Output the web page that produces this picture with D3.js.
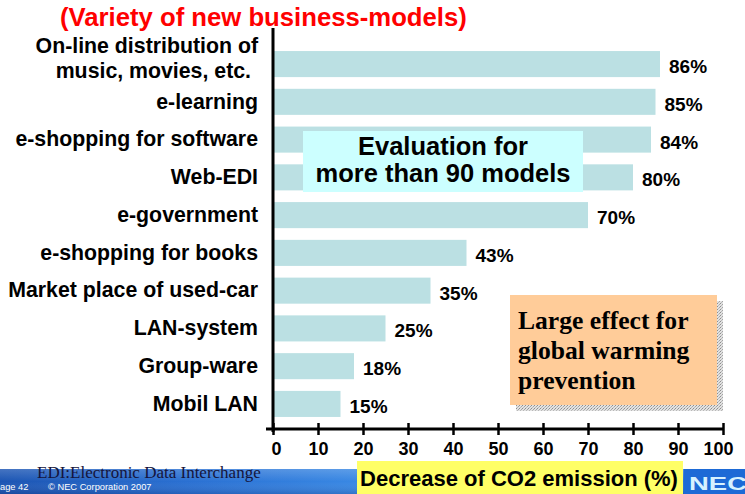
<!DOCTYPE html>
<html><head><meta charset="utf-8">
<script src="https://cdn.jsdelivr.net/npm/d3@7"></script>
<style>html,body{margin:0;padding:0;background:#fff;} svg{display:block;}</style>
</head><body>
<svg id="c" width="745" height="494"></svg>
<script>
// ---- data ----
const categories = [
  "On-line distribution of\nmusic, movies, etc.",
  "e-learning",
  "e-shopping for software",
  "Web-EDI",
  "e-government",
  "e-shopping for books",
  "Market place of used-car",
  "LAN-system",
  "Group-ware",
  "Mobil LAN"
];
const values = [86, 85, 84, 80, 70, 43, 35, 25, 18, 15];
const xTicks = [0, 10, 20, 30, 40, 50, 60, 70, 80, 90, 100];
const titleText = "(Variety of new business-models)";
const xTitle = "Decrease of CO2 emission (%)";
const note1 = ["Evaluation for", "more than 90 models"];
const note2 = ["Large effect for", "global warming", "prevention"];
const footnote = "EDI:Electronic Data Interchange";
const pageText = "age 42";
const copyText = "\u00A9 NEC Corporation 2007";

// ---- layout ----
const W = 745, H = 494;
const svg = d3.select("#c");
const defs = svg.append("defs");

const x = d3.scaleLinear().domain([0, 100]).range([273, 723]);
const y = d3.scaleBand().domain(categories).range([45, 423]).paddingInner(0.31).paddingOuter(0.16);

const SANS = "'Liberation Sans', Arial, Helvetica, sans-serif";
const SERIF = "'Liberation Serif', 'Times New Roman', serif";

// footer band
const g1 = defs.append("linearGradient").attr("id", "foot").attr("x1", "0").attr("x2", "1").attr("y1", "0").attr("y2", "0");
[["0%", "#1c55b3"], ["25%", "#2a70d2"], ["55%", "#3d8fe9"], ["80%", "#2f7de0"], ["100%", "#2468cc"]]
  .forEach(([o, c]) => g1.append("stop").attr("offset", o).attr("stop-color", c));
const g2 = defs.append("linearGradient").attr("id", "footv").attr("x1", "0").attr("x2", "0").attr("y1", "0").attr("y2", "1");
[["0%", "rgba(255,255,255,0.18)"], ["50%", "rgba(255,255,255,0)"], ["100%", "rgba(0,0,40,0.15)"]]
  .forEach(([o, c]) => g2.append("stop").attr("offset", o).attr("stop-color", c));
svg.append("rect").attr("x", 0).attr("y", 469).attr("width", W).attr("height", H - 469).attr("fill", "url(#foot)");
svg.append("rect").attr("x", 0).attr("y", 469).attr("width", W).attr("height", H - 469).attr("fill", "url(#footv)");

// shadow pattern
const pat = defs.append("pattern").attr("id", "dots").attr("width", 3).attr("height", 3).attr("patternUnits", "userSpaceOnUse");
pat.append("rect").attr("width", 3).attr("height", 3).attr("fill", "#e2e2e2");
pat.append("rect").attr("width", 1).attr("height", 1).attr("fill", "#8e8e8e");
pat.append("rect").attr("x", 2).attr("y", 1).attr("width", 1).attr("height", 1).attr("fill", "#a4a4a4");
pat.append("rect").attr("x", 1).attr("y", 2).attr("width", 1).attr("height", 1).attr("fill", "#b8b8b8");

// title
svg.append("text").attr("x", 60).attr("y", 26).attr("font-family", SANS).attr("font-weight", "bold")
  .attr("font-size", 25.7).attr("fill", "#ff0000").text(titleText);

// bars
svg.append("g").selectAll("rect").data(values).join("rect")
  .attr("x", x(0)).attr("y", (d, i) => y(categories[i]))
  .attr("width", d => x(d) - x(0)).attr("height", y.bandwidth())
  .attr("fill", "#bbe0e3");

// value labels
svg.append("g").selectAll("text").data(values).join("text")
  .attr("x", d => x(d) + 9).attr("y", (d, i) => y(categories[i]) + y.bandwidth() / 2 + 9)
  .attr("font-family", SANS).attr("font-weight", "bold").attr("font-size", 19).attr("fill", "#000")
  .text(d => d + "%");

// y axis labels
const yAxis = svg.append("g").attr("transform", `translate(${x(0)},0)`)
  .call(d3.axisLeft(y).tickSize(0).tickPadding(15));
yAxis.select(".domain").remove();
yAxis.selectAll(".tick text")
  .attr("font-family", SANS).attr("font-weight", "bold").attr("font-size", 21.3).attr("fill", "#000")
  .each(function (d) {
    const lines = d.split("\n");
    if (lines.length > 1) {
      const t = d3.select(this).text(null).attr("dy", null);
      lines.forEach((l, i) => t.append("tspan").attr("x", -15 - (i ? 7 : 0)).attr("y", (i - (lines.length - 1) / 2) * 25 - 6).attr("dy", "0.35em").text(l));
    }
  });
svg.append("line").attr("x1", x(0)).attr("x2", x(0)).attr("y1", 28).attr("y2", 432)
  .attr("stroke", "#000").attr("stroke-width", 3);

// x axis
const xAxis = svg.append("g").attr("transform", "translate(0,429)")
  .call(d3.axisBottom(x).tickValues(xTicks).tickSize(6).tickPadding(8));
xAxis.select(".domain").remove();
xAxis.selectAll(".tick line").attr("y1", -6).attr("y2", 6).attr("stroke", "#000").attr("stroke-width", 2.5);
xAxis.selectAll(".tick text").attr("font-family", SANS).attr("font-weight", "bold").attr("font-size", 18)
  .attr("fill", "#000").attr("y", 13).attr("dy", "0.71em")
  .attr("dx", d => d === 0 ? 3 : (d === 100 ? -5 : 0));
svg.append("line").attr("x1", x(0) - 7).attr("x2", x(100)).attr("y1", 429).attr("y2", 429)
  .attr("stroke", "#000").attr("stroke-width", 3);

// cyan note
svg.append("rect").attr("x", 303).attr("y", 131).attr("width", 280).attr("height", 61).attr("fill", "#ccffff");
svg.append("text").attr("x", 443).attr("y", 155).attr("text-anchor", "middle").attr("font-family", SANS)
  .attr("font-weight", "bold").attr("font-size", 25.5).attr("fill", "#000")
  .selectAll("tspan").data(note1).join("tspan").attr("x", 443).attr("dy", (d, i) => i ? 27 : 0).text(d => d);

// orange note
svg.append("rect").attr("x", 516).attr("y", 301).attr("width", 207).attr("height", 110).attr("fill", "url(#dots)");
svg.append("rect").attr("x", 510).attr("y", 295).attr("width", 207).attr("height", 110).attr("fill", "#ffcc99");
svg.append("text").attr("x", 518).attr("y", 329).attr("font-family", SERIF)
  .attr("font-weight", "bold").attr("font-size", 25.6).attr("fill", "#000")
  .selectAll("tspan").data(note2).join("tspan").attr("x", 518).attr("dy", (d, i) => i ? 30 : 0).text(d => d);

// x title box
svg.append("rect").attr("x", 357).attr("y", 461).attr("width", 326).attr("height", H - 461).attr("fill", "#ffff66");
svg.append("text").attr("x", 519).attr("y", 486).attr("text-anchor", "middle").attr("font-family", SANS)
  .attr("font-weight", "bold").attr("font-size", 22).attr("fill", "#000").text(xTitle);

// footer texts
svg.append("text").attr("x", 37).attr("y", 477.5).attr("font-family", SERIF).attr("font-size", 17)
  .attr("fill", "#14143c").text(footnote);
svg.append("text").attr("x", 0).attr("y", 490).attr("font-family", SANS).attr("font-size", 9.3)
  .attr("fill", "#fff").text(pageText);
svg.append("text").attr("x", 48).attr("y", 490).attr("font-family", SANS).attr("font-size", 9.3)
  .attr("fill", "#fff").text(copyText);

// NEC logo
svg.append("rect").attr("x", 684).attr("y", 469).attr("width", W - 684).attr("height", H - 469).attr("fill", "#1d6ad6");
svg.append("text").attr("x", 689).attr("y", 490).attr("font-family", SANS).attr("font-weight", "bold")
  .attr("font-size", 18).attr("textLength", 58).attr("lengthAdjust", "spacingAndGlyphs")
  .attr("fill", "#d6f2ff").text("NEC");
</script>
</body></html>
